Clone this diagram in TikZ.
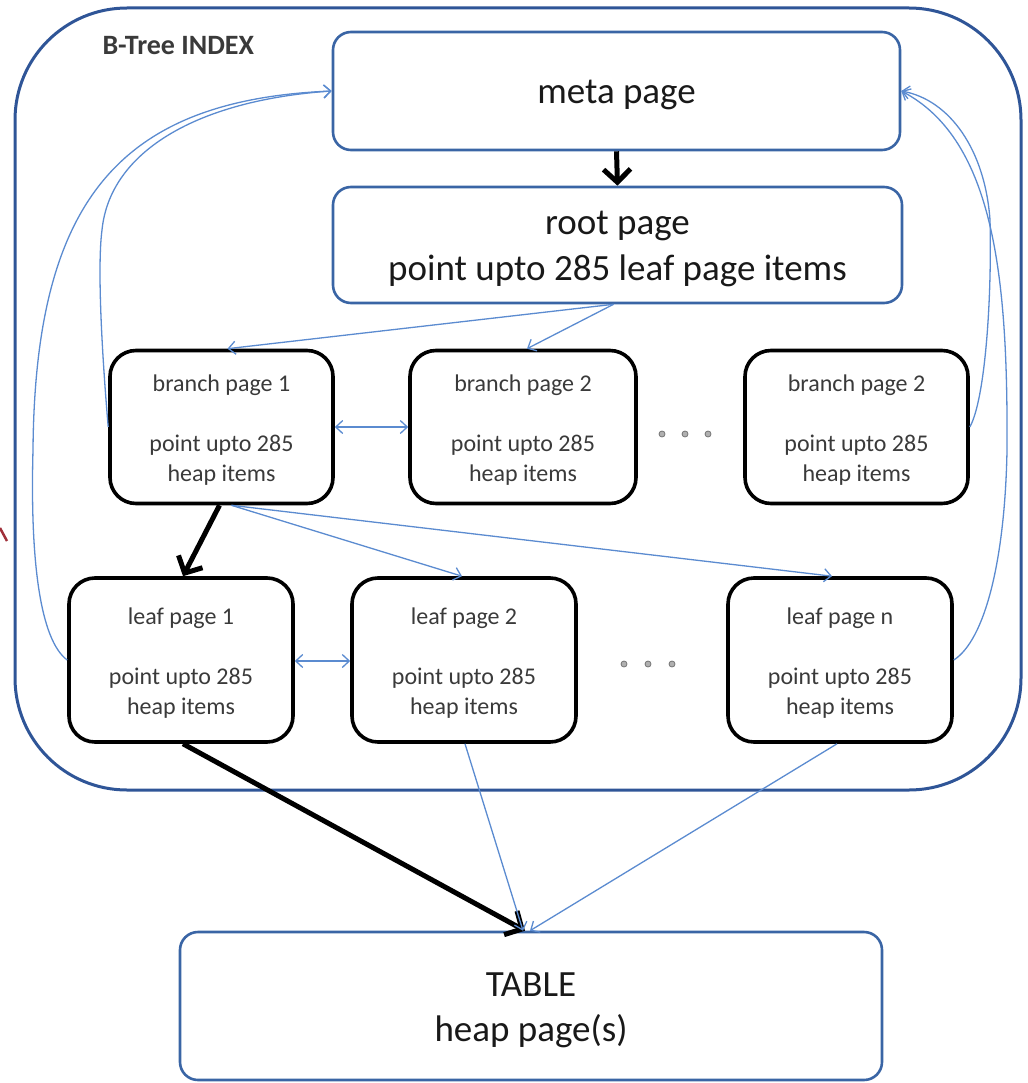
\documentclass[tikz,border=0pt]{standalone}
\usepackage{fontspec}
\setmainfont{Carlito}
\usetikzlibrary{arrows.meta}
\definecolor{frameblue}{HTML}{2F5597}
\definecolor{boxblue}{HTML}{3A65A5}
\definecolor{linkblue}{HTML}{5B8BD0}
\definecolor{inkgray}{HTML}{3A3A3A}
\definecolor{markred}{HTML}{A0303A}

\begin{document}
\begin{tikzpicture}[x=1pt,y=-1pt,
  bigbox/.style={draw=boxblue, line width=2.6, rounded corners=18, align=center,
    inner sep=0, font=\fontsize{37}{46}\selectfont, text=black!90},
  pagebox/.style={draw=black, line width=3.6, rounded corners=26, minimum width=223,
    align=center, inner sep=0, font=\fontsize{24}{30}\selectfont, text=inkgray},
  link/.style={draw=linkblue, line width=1.3, -{Straight Barb[length=7,width=13]}},
  twoway/.style={draw=linkblue, line width=1.3,
    {Straight Barb[length=7,width=13]}-{Straight Barb[length=7,width=13]}},
  mainlink/.style={draw=black, line width=5, -{Straight Barb[length=13,width=27]}},
  dot/.style={circle, draw=inkgray!70, fill=inkgray!40, line width=0.8, minimum size=6, inner sep=0}
]
\useasboundingbox (0,0) rectangle (1027,1083);
\newcommand{\toppad}{\rule{0pt}{23pt}}
\newcommand{\bigpad}{\rule{0pt}{32pt}}

% index frame
\draw[frameblue, line width=3, rounded corners=112] (15,8) rectangle (1021,790);
\node[anchor=west, font=\bfseries\fontsize{28}{32}\selectfont, text=inkgray] (title) at (99,46) {B-Tree INDEX};

% stray mark at the left edge
\draw[markred, line width=2.5] (0,528) -- (7,541);

% upper pages
\node[bigbox, minimum width=567, minimum height=118] (meta) at (616.5,91) {\bigpad meta page};
\node[bigbox, minimum width=569, minimum height=116] (root) at (617.5,245) {\bigpad root page\\point upto 285 leaf page items};

% branch pages
\node[pagebox, minimum height=153] (b1) at (221.5,427) {\toppad branch page 1\\[30pt]point upto 285\\heap items};
\node[pagebox, minimum width=226, minimum height=153] (b2) at (523,427) {\toppad branch page 2\\[30pt]point upto 285\\heap items};
\node[pagebox, minimum height=153] (b3) at (856.5,427) {\toppad branch page 2\\[30pt]point upto 285\\heap items};

% leaf pages
\node[pagebox, minimum width=224, minimum height=164] (l1) at (181,660) {\toppad leaf page 1\\[30pt]point upto 285\\heap items};
\node[pagebox, minimum width=224, minimum height=164] (l2) at (464,660) {\toppad leaf page 2\\[30pt]point upto 285\\heap items};
\node[pagebox, minimum width=224, minimum height=164] (l3) at (840,660) {\toppad leaf page n\\[30pt]point upto 285\\heap items};

% continuation dots
\node[dot] (bd1) at (662,434) {};
\node[dot] (bd2) at (685,434) {};
\node[dot] (bd3) at (708,434) {};
\node[dot] (ld1) at (624,664) {};
\node[dot] (ld2) at (648,664) {};
\node[dot] (ld3) at (672,664) {};

% heap table
\node[bigbox, minimum width=702, minimum height=148, font=\fontsize{37}{45}\selectfont] (table) at (531,1006) {\bigpad TABLE\\heap page(s)};

% main path
\draw[mainlink] (meta.south) -- (root.north);
\draw[mainlink] ([xshift=-2]b1.south) -- ([xshift=2]l1.north);
\draw[mainlink] ([xshift=2]l1.south) -- ([xshift=-6]table.north);

% root to branches
\draw[link] ([xshift=-4]root.south) -- ([xshift=6]b1.north);
\draw[link] ([xshift=-4]root.south) -- ([xshift=4]b2.north);

% branch 1 to leaves
\draw[link] ([xshift=10]b1.south) -- ([xshift=-2]l2.north);
\draw[link] ([xshift=10]b1.south) -- ([xshift=-8]l3.north);

% leaves to heap
\draw[link] ([xshift=1]l2.south) -- ([xshift=-8]table.north);
\draw[link] ([xshift=-3]l3.south) -- ([xshift=-1]table.north);

% sibling links
\draw[twoway] (b1.east) -- (b2.west);
\draw[twoway] ([yshift=-1]l1.east) -- ([yshift=-1]l2.west);

% links back to the meta page, left side
\draw[link] (b1.west) .. controls (100,330) and (98,260) .. (102,230)
  .. controls (110,150) and (200,100) .. (meta.west);
\draw[link] (l1.west) .. controls (40,640) and (30,560) .. (33,450)
  .. controls (35,200) and (120,100) .. (meta.west);

% links back to the meta page, right side
\draw[link] (b3.east) .. controls (985,400) and (992,300) .. (990,220)
  .. controls (985,150) and (950,100) .. (meta.east);
\draw[link] (l3.east) .. controls (985,640) and (1005,560) .. (1007,450)
  .. controls (1008,280) and (995,140) .. (meta.east);
\end{tikzpicture}
\end{document}
